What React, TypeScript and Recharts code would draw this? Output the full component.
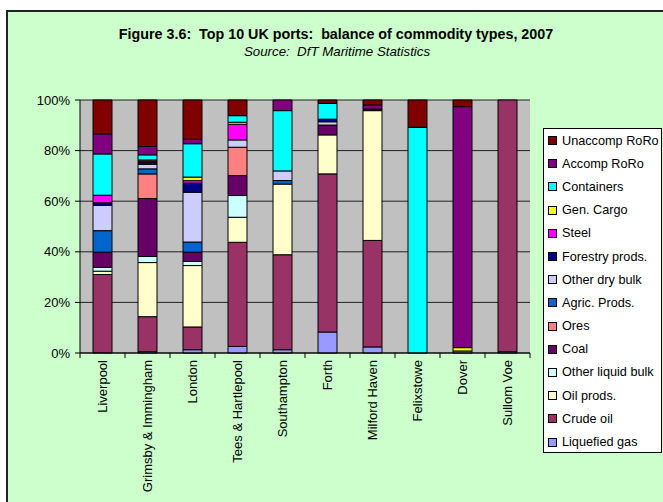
import React from "react"
import { BarChart, Bar, XAxis, YAxis, CartesianGrid } from "recharts"

const ports = [
  "Liverpool",
  "Grimsby & Immingham",
  "London",
  "Tees & Hartlepool",
  "Southampton",
  "Forth",
  "Milford Haven",
  "Felixstowe",
  "Dover",
  "Sullom Voe",
]

// shares (%), one list per commodity, ports in order above
const liquefiedGas = [0, 0.5, 1.3, 2.6, 1.3, 8.3, 2.4, 0, 0.8, 0.5]
const crudeOil = [31, 13.8, 9, 41.2, 37.5, 62.5, 42.1, 0, 0, 99.5]
const oilProds = [1.3, 21.3, 24.3, 9.9, 27.9, 15.4, 51.3, 0, 0, 0]
const otherLiquidBulk = [1.5, 2.4, 1.6, 8.6, 0, 0, 0, 0, 0, 0]
const coal = [6, 22.8, 3.7, 7.9, 0, 3.9, 0, 0, 0, 0]
const ores = [0, 9.7, 0, 11.2, 0, 0, 0, 0, 0, 0]
const agricProds = [8.5, 2, 4, 0, 1.4, 0, 0, 0, 0, 0]
const otherDryBulk = [10, 1.8, 19.7, 2.9, 3.8, 1.3, 0, 0, 0, 0]
const forestryProds = [1, 0.8, 3.6, 0, 0, 1, 0.6, 0, 0, 0]
const steel = [3, 0.5, 1, 6.2, 0, 0, 0, 0, 0, 0]
const genCargo = [0, 0.4, 1.4, 0.8, 0, 0, 0, 0, 1.3, 0]
const containers = [16.3, 2, 13.2, 2.6, 23.8, 6.3, 0, 89.2, 0, 0]
const accompRoRo = [7.9, 3.3, 1.8, 0, 4.2, 0, 1.6, 0, 94.7, 0]
const unaccompRoRo = [13.4, 18.3, 15.5, 6.2, 0, 1.3, 2, 10.8, 2.6, 0]

const yTicks = [0, 0.2, 0.4, 0.6, 0.8, 1]

// bottom of the stack first
const series = [
  { key: "lg", name: "Liquefied gas", color: "#9999FF", values: liquefiedGas },
  { key: "co", name: "Crude oil", color: "#993366", values: crudeOil },
  { key: "op", name: "Oil prods.", color: "#FFFFCC", values: oilProds },
  { key: "ol", name: "Other liquid bulk", color: "#CCFFFF", values: otherLiquidBulk },
  { key: "coal", name: "Coal", color: "#660066", values: coal },
  { key: "ores", name: "Ores", color: "#FF8080", values: ores },
  { key: "ag", name: "Agric. Prods.", color: "#0066CC", values: agricProds },
  { key: "od", name: "Other dry bulk", color: "#CCCCFF", values: otherDryBulk },
  { key: "fp", name: "Forestry prods.", color: "#000080", values: forestryProds },
  { key: "st", name: "Steel", color: "#FF00FF", values: steel },
  { key: "gc", name: "Gen. Cargo", color: "#FFFF00", values: genCargo },
  { key: "ct", name: "Containers", color: "#00FFFF", values: containers },
  { key: "ar", name: "Accomp RoRo", color: "#800080", values: accompRoRo },
  { key: "ur", name: "Unaccomp RoRo", color: "#800000", values: unaccompRoRo },
]

const chartData = ports.map((port, i) => {
  const row: Record<string, string | number> = { port }
  series.forEach((s) => {
    row[s.key] = s.values[i]
  })
  return row
})

const FONT = "'Liberation Sans', Arial, Helvetica, sans-serif"
const W = 663
const H = 502
const PLOT_LEFT = 80
const PLOT_RIGHT = 530
const PLOT_TOP = 100
const PLOT_BOTTOM = 353
const halfBand = (PLOT_RIGHT - PLOT_LEFT) / ports.length / 2

function PortTick(props: any) {
  const { x, y, payload, index } = props
  const last = index === ports.length - 1
  return (
    <g>
      <line x1={x - halfBand} x2={x - halfBand} y1={PLOT_BOTTOM} y2={PLOT_BOTTOM + 5} stroke="#000" />
      {last && <line x1={x + halfBand} x2={x + halfBand} y1={PLOT_BOTTOM} y2={PLOT_BOTTOM + 5} stroke="#000" />}
      <text
        x={x}
        y={y}
        transform={`rotate(-90, ${x}, ${y})`}
        textAnchor="end"
        dominantBaseline="central"
        fontSize={13}
        fontFamily={FONT}
        fill="#000"
      >
        {payload.value}
      </text>
    </g>
  )
}

function LegendBox() {
  const items = [...series].reverse()
  return (
    <div
      style={{
        position: "absolute",
        left: 543,
        top: 128,
        width: 119,
        height: 325,
        border: "1px solid #000",
        background: "#fff",
        boxSizing: "border-box",
        paddingTop: 0,
        fontFamily: FONT,
        fontSize: 12.7,
        color: "#000",
      }}
    >
      {items.map((s) => (
        <div key={s.key} style={{ height: 23.2, display: "flex", alignItems: "center", paddingLeft: 4 }}>
          <span
            style={{
              width: 7,
              height: 7,
              background: s.color,
              border: "1px solid #000",
              marginRight: 5,
              flexShrink: 0,
            }}
          />
          <span style={{ whiteSpace: "nowrap" }}>{s.name}</span>
        </div>
      ))}
    </div>
  )
}

export default function App() {
  return (
    <div style={{ position: "relative", width: W, height: H, overflow: "hidden", background: "#fff" }}>
      <style>{"body{margin:0}"}</style>
      <div
        style={{
          position: "absolute",
          left: 6,
          top: 10,
          width: 720,
          height: 540,
          background: "#CCFFCC",
          border: "2px solid #222",
        }}
      />
      <div
        style={{
          position: "absolute",
          left: 336,
          top: 26,
          transform: "translateX(-50%)",
          whiteSpace: "pre",
          fontFamily: FONT,
          fontWeight: "bold",
          fontSize: 14.3,
          lineHeight: "16px",
        }}
      >
        {"Figure 3.6:  Top 10 UK ports:  balance of commodity types, 2007"}
      </div>
      <div
        style={{
          position: "absolute",
          left: 337,
          top: 44,
          transform: "translateX(-50%)",
          whiteSpace: "pre",
          fontFamily: FONT,
          fontStyle: "italic",
          fontSize: 13.3,
          lineHeight: "16px",
        }}
      >
        {"Source:  DfT Maritime Statistics"}
      </div>
      <div style={{ position: "absolute", left: 0, top: 0 }}>
        <BarChart
          width={W}
          height={H}
          data={chartData}
          stackOffset="expand"
          barSize={19}
          margin={{ top: PLOT_TOP, right: W - PLOT_RIGHT, bottom: 0, left: 0 }}
        >
          <CartesianGrid vertical={false} fill="#C0C0C0" stroke="#222" strokeWidth={1} />
          <XAxis
            dataKey="port"
            interval={0}
            height={H - PLOT_BOTTOM}
            axisLine={{ stroke: "#000" }}
            tickLine={false}
            tickMargin={0}
            tick={(p: any) => <PortTick {...p} y={PLOT_BOTTOM + 7} />}
          />
          <YAxis
            width={PLOT_LEFT}
            domain={[0, 1]}
            ticks={yTicks}
            tickFormatter={(v: number) => `${Math.round(v * 100)}%`}
            axisLine={{ stroke: "#000" }}
            tickLine={{ stroke: "#000" }}
            tickSize={5}
            tickMargin={5}
            tick={{ fontSize: 13, fontFamily: FONT, fill: "#000" }}
          />
          {series.map((s) => (
            <Bar
              key={s.key}
              dataKey={s.key}
              name={s.name}
              stackId="a"
              fill={s.color}
              stroke="#000"
              strokeWidth={1}
              isAnimationActive={false}
            />
          ))}
        </BarChart>
      </div>
      <LegendBox />
    </div>
  )
}
